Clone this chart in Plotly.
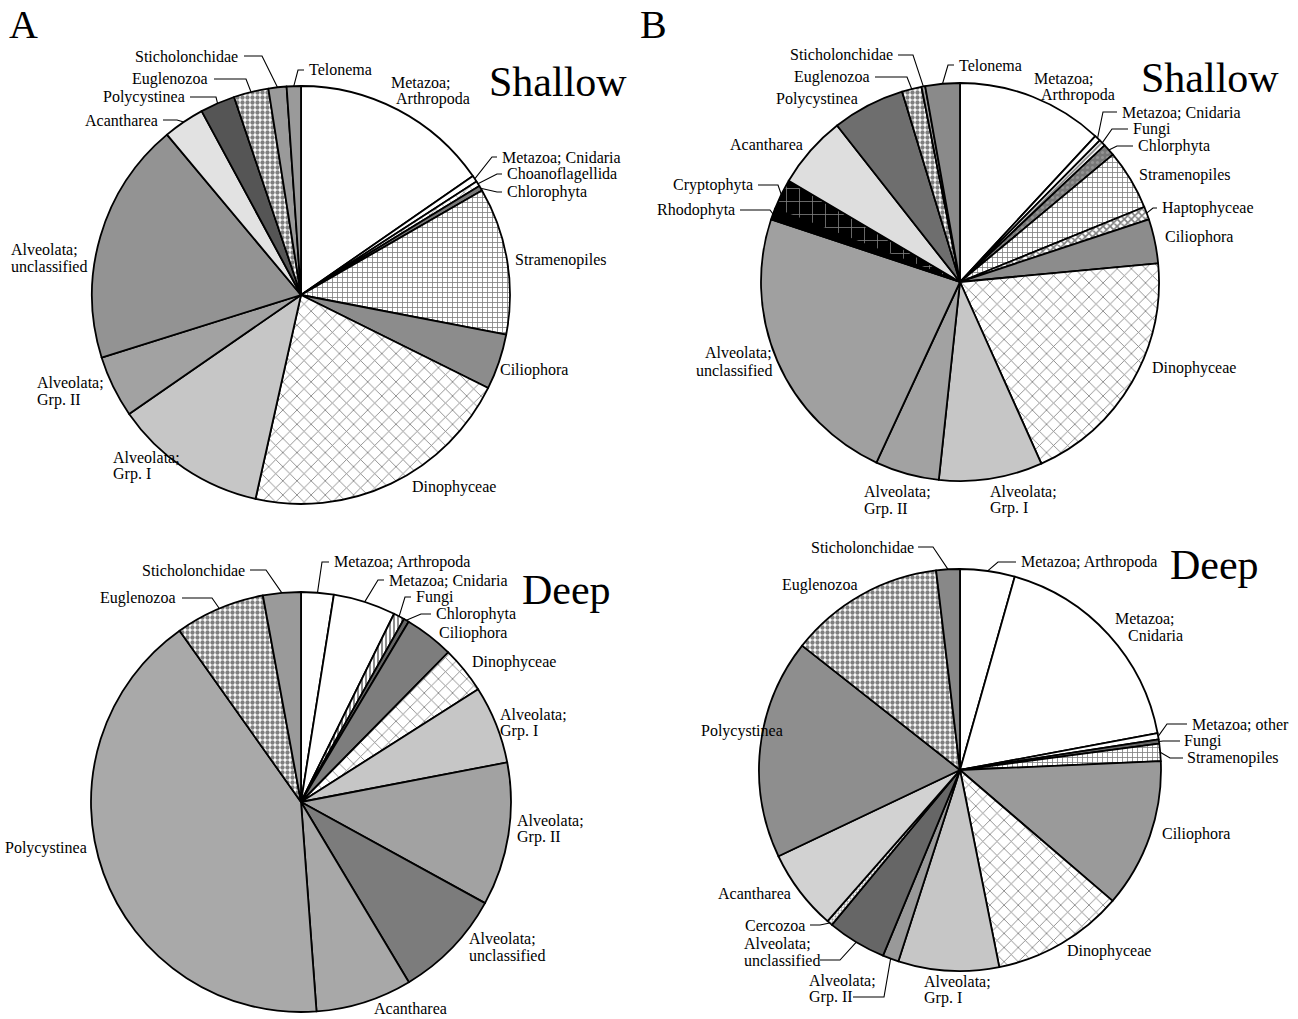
import math
import plotly.graph_objects as go

W, H = 1298, 1019

# ---------------------------------------------------------------------------
# Relative read abundance (%) per taxon, listed clockwise from 12 o'clock
# ---------------------------------------------------------------------------
a_shallow_taxa = ["Metazoa; Arthropoda", "Metazoa; Cnidaria", "Choanoflagellida", "Chlorophyta",
                  "Stramenopiles", "Ciliophora", "Dinophyceae", "Alveolata; Grp. I",
                  "Alveolata; Grp. II", "Alveolata; unclassified", "Acantharea", "Polycystinea",
                  "Euglenozoa", "Sticholonchidae", "Telonema"]
a_shallow_pct = [15.4, 0.5, 0.4, 0.4, 11.4, 4.3, 21.2, 11.9, 4.8, 18.8, 3.2, 2.7, 2.7, 1.4, 1.1]

a_deep_taxa = ["Metazoa; Arthropoda", "Metazoa; Cnidaria", "Fungi", "Chlorophyta", "Ciliophora",
               "Dinophyceae", "Alveolata; Grp. I", "Alveolata; Grp. II", "Alveolata; unclassified",
               "Acantharea", "Polycystinea", "Euglenozoa", "Sticholonchidae"]
a_deep_pct = [2.5, 4.8, 0.85, 0.4, 3.8, 3.6, 6.0, 11.0, 8.4, 7.4, 41.3, 6.9, 2.9]

b_shallow_taxa = ["Metazoa; Arthropoda", "Metazoa; Cnidaria", "Fungi", "Chlorphyta", "Stramenopiles",
                  "Haptophyceae", "Ciliophora", "Dinophyceae", "Alveolata; Grp. I",
                  "Alveolata; Grp. II", "Alveolata; unclassified", "Rhodophyta", "Cryptophyta",
                  "Acantharea", "Polycystinea", "Euglenozoa", "Sticholonchidae", "Telonema"]
b_shallow_pct = [11.9, 0.5, 0.55, 1.0, 4.9, 1.05, 3.6, 19.8, 8.4, 5.2, 23.2, 0.9, 2.5,
                 5.9, 5.9, 1.6, 0.3, 2.8]

b_deep_taxa = ["Metazoa; Arthropoda", "Metazoa; Cnidaria", "Metazoa; other", "Fungi", "Stramenopiles",
               "Ciliophora", "Dinophyceae", "Alveolata; Grp. I", "Alveolata; Grp. II",
               "Alveolata; unclassified", "Cercozoa", "Acantharea", "Polycystinea",
               "Euglenozoa", "Sticholonchidae"]
b_deep_pct = [4.4, 17.7, 0.5, 0.33, 1.4, 12.0, 10.6, 8.1, 1.3, 4.75, 0.45, 6.5, 17.7, 12.5, 1.9]

panel_letters = ["A", "B"]
depth_titles = ["Shallow", "Deep"]

# ---------------------------------------------------------------------------
# Fill styles: (fill colour, pattern shape, pattern colour, pattern size, solidity)
# ---------------------------------------------------------------------------
BASE_STYLE = {
    "Metazoa; Arthropoda": ("#ffffff", "", None, None, None),
    "Metazoa; Cnidaria": ("#ffffff", "", None, None, None),
    "Metazoa; other": ("#ffffff", "", None, None, None),
    "Choanoflagellida": ("#ffffff", "x", "#000000", 8, 0.15),
    "Fungi": ("#ffffff", "/", "#000000", 4, 0.45),
    "Chlorophyta": ("#777777", "", None, None, None),
    "Chlorphyta": ("#777777", ".", "#b0b0b0", 5, 0.3),
    "Stramenopiles": ("#ffffff", "+", "#000000", 5, 0.3),
    "Haptophyceae": ("#ffffff", "x", "#000000", 5, 0.55),
    "Ciliophora": ("#8c8c8c", "", None, None, None),
    "Dinophyceae": ("#ffffff", "x", "#000000", 10, 0.16),
    "Alveolata; Grp. I": ("#c6c6c6", "", None, None, None),
    "Alveolata; Grp. II": ("#a2a2a2", "", None, None, None),
    "Alveolata; unclassified": ("#939393", "", None, None, None),
    "Cercozoa": ("#ffffff", ".", "#444444", 3, 0.45),
    "Rhodophyta": ("#000000", "", None, None, None),
    "Cryptophyta": ("#000000", "+", "#ffffff", 13, 0.12),
    "Acantharea": ("#e2e2e2", "", None, None, None),
    "Polycystinea": ("#6a6a6a", "", None, None, None),
    "Euglenozoa": ("#ffffff", ".", "#000000", 5, 0.6),
    "Sticholonchidae": ("#9a9a9a", "", None, None, None),
    "Telonema": ("#9a9a9a", "", None, None, None),
}

# Label placement (pixels): name, x, y, anchor, two-line?, second-line x shift,
# leader (horizontal start x, y, elbow x) or None
a_shallow_place = [
    ("Metazoa; Arthropoda", 421, 82, "center", True, 12, None),
    ("Metazoa; Cnidaria", 500, 157, "left", False, 0, (497, 157, 492)),
    ("Choanoflagellida", 505, 174, "left", False, 0, (502, 174, 497)),
    ("Chlorophyta", 505, 192, "left", False, 0, (502, 192, 497)),
    ("Stramenopiles", 513, 260, "left", False, 0, None),
    ("Ciliophora", 498, 370, "left", False, 0, None),
    ("Dinophyceae", 410, 487, "left", False, 0, None),
    ("Alveolata; Grp. I", 111, 457, "left", True, 0, None),
    ("Alveolata; Grp. II", 35, 383, "left", True, 0, None),
    ("Alveolata; unclassified", 9, 249, "left", True, 0, None),
    ("Acantharea", 160, 120, "right", False, 0, (163, 120, 177)),
    ("Polycystinea", 187, 97, "right", False, 0, (190, 97, 216)),
    ("Euglenozoa", 210, 79, "right", False, 0, (214, 79, 246)),
    ("Sticholonchidae", 240, 56, "right", False, 0, (244, 56, 262)),
    ("Telonema", 307, 70, "left", False, 0, (304, 70, 298)),
]

a_deep_place = [
    ("Metazoa; Arthropoda", 332, 562, "left", False, 0, (329, 562, 322)),
    ("Metazoa; Cnidaria", 387, 580, "left", False, 0, (384, 580, 378)),
    ("Fungi", 414, 597, "left", False, 0, (411, 597, 405)),
    ("Chlorophyta", 434, 614, "left", False, 0, (431, 614, 421)),
    ("Ciliophora", 437, 633, "left", False, 0, None),
    ("Dinophyceae", 470, 662, "left", False, 0, None),
    ("Alveolata; Grp. I", 498, 714, "left", True, 0, None),
    ("Alveolata; Grp. II", 515, 820, "left", True, 0, None),
    ("Alveolata; unclassified", 467, 938, "left", True, 0, None),
    ("Acantharea", 372, 1008, "left", False, 0, None),
    ("Polycystinea", 3, 848, "left", False, 0, None),
    ("Euglenozoa", 178, 598, "right", False, 0, (182, 598, 212)),
    ("Sticholonchidae", 247, 570, "right", False, 0, (250, 570, 266)),
]

b_shallow_place = [
    ("Metazoa; Arthropoda", 1064, 78, "center", True, 14, None),
    ("Metazoa; Cnidaria", 1120, 112, "left", False, 0, (1117, 112, 1103)),
    ("Fungi", 1131, 129, "left", False, 0, (1128, 129, 1112)),
    ("Chlorphyta", 1136, 146, "left", False, 0, (1133, 146, 1117)),
    ("Stramenopiles", 1137, 175, "left", False, 0, None),
    ("Haptophyceae", 1160, 208, "left", False, 0, (1157, 208, 1153)),
    ("Ciliophora", 1163, 237, "left", False, 0, None),
    ("Dinophyceae", 1150, 368, "left", False, 0, None),
    ("Alveolata; Grp. I", 988, 491, "left", True, 0, None),
    ("Alveolata; Grp. II", 862, 492, "left", True, 0, None),
    ("Alveolata; unclassified", 774, 353, "right", True, 0, None),
    ("Rhodophyta", 737, 210, "right", False, 0, (740, 210, 770)),
    ("Cryptophyta", 755, 185, "right", False, 0, (758, 185, 778)),
    ("Acantharea", 805, 144, "right", False, 0, None),
    ("Polycystinea", 860, 99, "right", False, 0, None),
    ("Euglenozoa", 872, 77, "right", False, 0, (875, 77, 907)),
    ("Sticholonchidae", 895, 55, "right", False, 0, (898, 55, 913)),
    ("Telonema", 957, 65, "left", False, 0, (954, 65, 948)),
]

b_deep_place = [
    ("Metazoa; Arthropoda", 1019, 562, "left", False, 0, (1016, 562, 998)),
    ("Metazoa; Cnidaria", 1145, 618, "center", True, 10, None),
    ("Metazoa; other", 1190, 724, "left", False, 0, (1187, 724, 1167)),
    ("Fungi", 1182, 741, "left", False, 0, (1180, 741, 1163)),
    ("Stramenopiles", 1185, 758, "left", False, 0, (1183, 758, 1170)),
    ("Ciliophora", 1160, 834, "left", False, 0, None),
    ("Dinophyceae", 1065, 951, "left", False, 0, None),
    ("Alveolata; Grp. I", 922, 981, "left", True, 0, None),
    ("Alveolata; Grp. II", 807, 980, "left", True, 0, (853, 997, 884)),
    ("Alveolata; unclassified", 742, 943, "left", True, 0, (820, 960, 840)),
    ("Cercozoa", 807, 925, "right", False, 0, (810, 925, 820)),
    ("Acantharea", 793, 893, "right", False, 0, None),
    ("Polycystinea", 785, 731, "right", False, 0, None),
    ("Euglenozoa", 860, 585, "right", False, 0, None),
    ("Sticholonchidae", 916, 547, "right", False, 0, (918, 547, 933)),
]

PANELS = [
    dict(taxa=a_shallow_taxa, pct=a_shallow_pct, cx=301, cy=295, r=209, place=a_shallow_place,
         style={"Polycystinea": ("#555555", "", None, None, None)},
         title=(depth_titles[0], 558, 82)),
    dict(taxa=a_deep_taxa, pct=a_deep_pct, cx=301, cy=802, r=210, place=a_deep_place,
         style={"Ciliophora": ("#7d7d7d", "", None, None, None),
                "Alveolata; unclassified": ("#7c7c7c", "", None, None, None),
                "Acantharea": ("#a8a8a8", "", None, None, None),
                "Polycystinea": ("#a9a9a9", "", None, None, None),
                "Chlorophyta": ("#666666", "", None, None, None),
                "Fungi": ("#ffffff", "|", "#000000", 4, 0.45)},
         title=(depth_titles[1], 566, 590)),
    dict(taxa=b_shallow_taxa, pct=b_shallow_pct, cx=960, cy=282, r=199, place=b_shallow_place,
         style={"Polycystinea": ("#6e6e6e", "", None, None, None),
                "Alveolata; unclassified": ("#a0a0a0", "", None, None, None),
                "Acantharea": ("#dedede", "", None, None, None),
                "Telonema": ("#8a8a8a", "", None, None, None)},
         title=(depth_titles[0], 1210, 78)),
    dict(taxa=b_deep_taxa, pct=b_deep_pct, cx=960, cy=770, r=201, place=b_deep_place,
         style={"Polycystinea": ("#8e8e8e", "", None, None, None),
                "Acantharea": ("#d2d2d2", "", None, None, None),
                "Alveolata; unclassified": ("#666666", "", None, None, None),
                "Ciliophora": ("#9a9a9a", "", None, None, None),
                "Alveolata; Grp. II": ("#999999", "", None, None, None),
                "Sticholonchidae": ("#888888", "", None, None, None),
                "Fungi": ("#666666", "", None, None, None)},
         title=(depth_titles[1], 1214, 565)),
]

FONT = "Liberation Serif, Times New Roman, serif"
LABEL_SIZE = 16
LINE_STEP = 17


def px(x):
    return x / W


def py(y):
    return 1 - y / H


def slice_edge(values, idx, cx, cy, r):
    """Point on the rim at the middle of slice idx (clockwise from 12 o'clock)."""
    total = sum(values)
    mid = (sum(values[:idx]) + values[idx] / 2) / total * 2 * math.pi
    return cx + r * math.sin(mid), cy - r * math.cos(mid)


fig = go.Figure()
annotations = []
shapes = []

for p in PANELS:
    styles = [p["style"].get(t, BASE_STYLE[t]) for t in p["taxa"]]
    fig.add_trace(go.Pie(
        labels=p["taxa"], values=p["pct"], sort=False, direction="clockwise", rotation=0,
        textinfo="none", hoverinfo="label+percent",
        domain=dict(x=[px(p["cx"] - p["r"]), px(p["cx"] + p["r"])],
                    y=[py(p["cy"] + p["r"]), py(p["cy"] - p["r"])]),
        marker=dict(
            colors=[s[0] for s in styles],
            line=dict(color="#000000", width=1.8),
            pattern=dict(
                shape=[s[1] for s in styles],
                fgcolor=[s[2] or "#000000" for s in styles],
                size=[s[3] or 8 for s in styles],
                solidity=[s[4] or 0.3 for s in styles],
                fillmode="overlay",
            ),
        ),
    ))

    for name, x, y, anchor, wrap, dx2, leader in p["place"]:
        if wrap:
            head, tail = name.split("; ")
            lines = [(head + ";", x, y), (tail, x + dx2, y + LINE_STEP)]
        else:
            lines = [(name, x, y)]
        for text, lx, ly in lines:
            annotations.append(dict(
                text=text, x=px(lx), y=py(ly), xref="paper", yref="paper",
                xanchor=anchor, yanchor="middle", showarrow=False,
                font=dict(family=FONT, size=LABEL_SIZE, color="#000000"),
            ))
        if leader:
            xs, ys, xe = leader
            ex, ey = slice_edge(p["pct"], p["taxa"].index(name), p["cx"], p["cy"], p["r"])
            shapes.append(dict(
                type="path", xref="paper", yref="paper",
                path=f"M {px(xs)},{py(ys)} L {px(xe)},{py(ys)} L {px(ex)},{py(ey)}",
                line=dict(color="#000000", width=1.1),
            ))

    t_text, t_x, t_y = p["title"]
    annotations.append(dict(
        text=t_text, x=px(t_x), y=py(t_y), xref="paper", yref="paper",
        xanchor="center", yanchor="middle", showarrow=False,
        font=dict(family=FONT, size=42, color="#000000"),
    ))

for letter, lx in zip(panel_letters, [23, 653]):
    annotations.append(dict(
        text=letter, x=px(lx), y=py(25), xref="paper", yref="paper",
        xanchor="center", yanchor="middle", showarrow=False,
        font=dict(family=FONT, size=40, color="#000000"),
    ))

fig.update_layout(
    width=W, height=H,
    margin=dict(l=0, r=0, t=0, b=0),
    paper_bgcolor="#ffffff", plot_bgcolor="#ffffff",
    showlegend=False,
    annotations=annotations,
    shapes=shapes,
)

fig.write_html("out.html")
